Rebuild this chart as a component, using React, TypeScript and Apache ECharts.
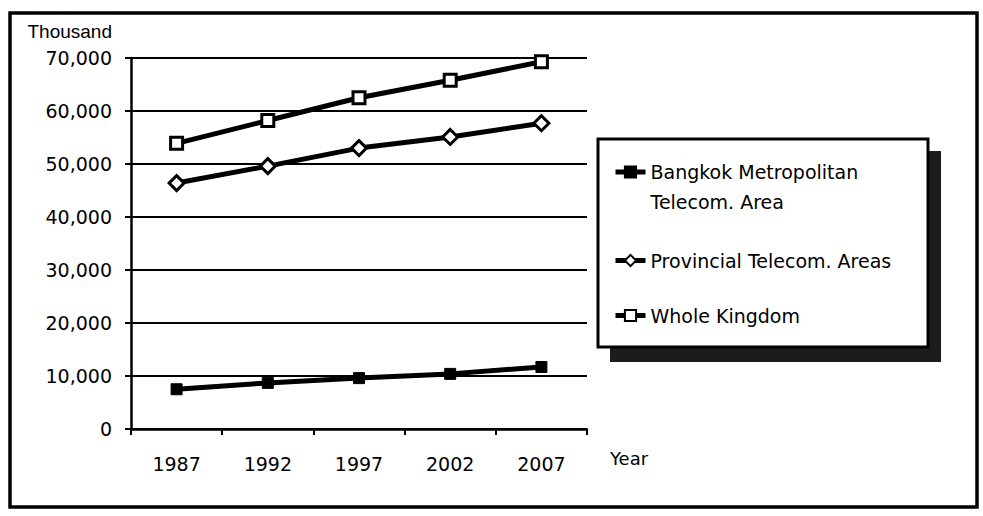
import React, { useEffect, useRef } from "react";
import * as echarts from "echarts";

const years = ["1987", "1992", "1997", "2002", "2007"];
const bangkok = [7500, 8700, 9600, 10400, 11700];
const provincial = [46400, 49600, 53000, 55100, 57700];
const whole = [53900, 58200, 62500, 65800, 69300];

const yMin = 0;
const yMax = 70000;
const yStep = 10000;

const nameBangkok = "Bangkok Metropolitan Telecom. Area";
const nameProvincial = "Provincial Telecom. Areas";
const nameWhole = "Whole Kingdom";

const FONT = "DejaVu Sans";

export default function App() {
  const ref = useRef<HTMLDivElement>(null);

  useEffect(() => {
    document.body.style.margin = "0";
    if (!ref.current) return;
    const chart = echarts.init(ref.current, null, { renderer: "svg" });

    const lineCommon = {
      type: "line",
      lineStyle: { color: "#000", width: 5 },
      z: 3,
    };

    const legendCommon = {
      orient: "vertical",
      left: 613,
      padding: 0,
      itemWidth: 30,
      itemHeight: 14,
      itemGap: 0,
      selectedMode: false,
      z: 10,
      lineStyle: { width: 5, color: "#000" },
      textStyle: { fontFamily: FONT, fontSize: 19, color: "#000", lineHeight: 14 },
    };

    chart.setOption({
      animation: false,
      backgroundColor: "#fff",
      grid: { left: 131, top: 58, width: 456, height: 371 },
      xAxis: {
        type: "category",
        data: years,
        boundaryGap: true,
        name: "Year",
        nameLocation: "end",
        nameGap: 23,
        nameTextStyle: {
          fontFamily: FONT,
          fontSize: 18,
          color: "#000",
          align: "left",
          verticalAlign: "top",
          lineHeight: 58,
        },
        axisLine: { lineStyle: { color: "#000", width: 2.5 } },
        axisTick: { show: true, length: 6, lineStyle: { color: "#000", width: 2 } },
        axisLabel: { margin: 25, fontFamily: FONT, fontSize: 19, color: "#000" },
        splitLine: { show: false },
      },
      yAxis: {
        type: "value",
        min: yMin,
        max: yMax,
        interval: yStep,
        name: "Thousand",
        nameLocation: "end",
        nameGap: 17,
        nameTextStyle: {
          fontFamily: "Liberation Sans",
          fontSize: 19,
          color: "#000",
          align: "right",
          padding: [0, 19, 0, 0],
        },
        axisLine: { show: true, lineStyle: { color: "#000", width: 2.5 } },
        axisTick: { show: true, length: 6, lineStyle: { color: "#000", width: 2 } },
        axisLabel: {
          margin: 19,
          fontFamily: FONT,
          fontSize: 19,
          color: "#000",
          formatter: (v: number) => v.toLocaleString("en-US"),
        },
        splitLine: { show: true, lineStyle: { color: "#000", width: 2 } },
      },
      legend: [
        {
          ...legendCommon,
          top: 127,
          data: [nameBangkok],
          formatter: () => " \nBangkok Metropolitan\nTelecom. Area",
          textStyle: {
            fontFamily: FONT,
            fontSize: 19,
            color: "#000",
            lineHeight: 30,
          },
        },
        { ...legendCommon, top: 251, data: [nameProvincial] },
        { ...legendCommon, top: 306, data: [nameWhole] },
      ],
      graphic: [
        {
          type: "rect",
          z: 1,
          shape: { x: 610, y: 151, width: 331, height: 211 },
          style: { fill: "#1c1c1c" },
        },
        {
          type: "rect",
          z: 2,
          shape: { x: 598, y: 139, width: 330, height: 208 },
          style: { fill: "#fff", stroke: "#000", lineWidth: 3 },
        },
        {
          type: "rect",
          z: 2,
          shape: { x: 10, y: 13, width: 967, height: 494 },
          style: { fill: "none", stroke: "#000", lineWidth: 3.5 },
        },
      ],
      series: [
        {
          ...lineCommon,
          name: nameBangkok,
          data: bangkok,
          symbol: "rect",
          symbolSize: 11,
          itemStyle: { color: "#000", borderColor: "#000", borderWidth: 1 },
        },
        {
          ...lineCommon,
          name: nameProvincial,
          data: provincial,
          symbol: "diamond",
          symbolSize: 15,
          itemStyle: { color: "#fff", borderColor: "#000", borderWidth: 3 },
        },
        {
          ...lineCommon,
          name: nameWhole,
          data: whole,
          symbol: "rect",
          symbolSize: 12,
          itemStyle: { color: "#fff", borderColor: "#000", borderWidth: 3 },
        },
      ],
    });

    return () => chart.dispose();
  }, []);

  return <div ref={ref} style={{ width: 983, height: 516 }} />;
}
